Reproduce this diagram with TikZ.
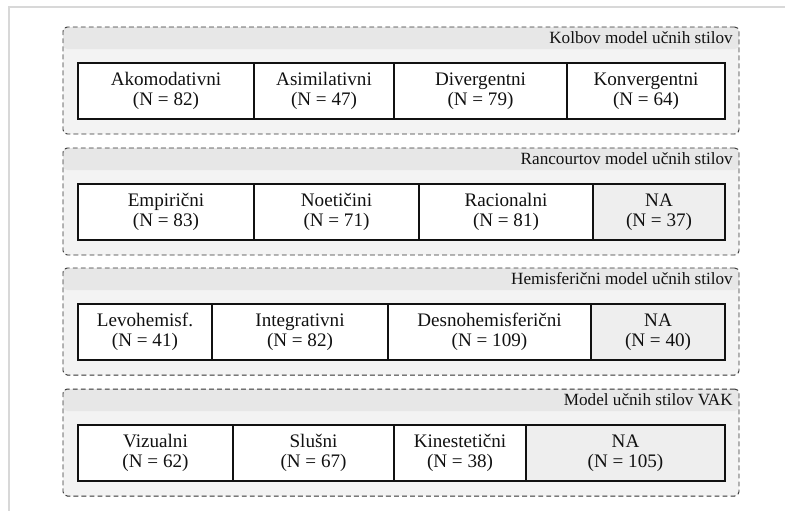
\documentclass[tikz,border=0pt]{standalone}
\usepackage{fontspec}
\setmainfont{Liberation Serif}
\usetikzlibrary{positioning,calc}
\definecolor{Ink}{HTML}{111111}
\definecolor{Frame}{HTML}{D8D8D8}
\definecolor{Boxfill}{HTML}{F3F3F3}
\definecolor{Band}{HTML}{E7E7E7}
\definecolor{Dash}{HTML}{333333}
\definecolor{NAfill}{HTML}{EEEEEE}
\tikzset{
  model/.style={rectangle,rounded corners=3pt,draw=Dash,fill=Boxfill,line width=.7pt,dash pattern=on 3.5pt off 2.2pt,
    minimum width=16.9cm,minimum height=2.675cm,inner sep=0pt,outer sep=0pt,
    path picture={\fill[Band] (path picture bounding box.north west) rectangle ([yshift=-.55cm]path picture bounding box.north east);}},
  mtitle/.style={anchor=base east,inner sep=0pt,font=\fontsize{12.2}{14}\selectfont,text=Ink},
  cell/.style={rectangle,draw=Ink,fill=white,line width=1.4pt,minimum height=1.4cm,inner sep=0pt,outer sep=0pt,
    align=center,font=\fontsize{13.6}{14.2}\selectfont,text=Ink},
  na/.style={cell,fill=NAfill}}

\begin{document}
\begin{tikzpicture}[x=1cm,y=1cm]
\path[use as bounding box] (0,0) rectangle (19.625,-12.75);
\draw[Frame,line width=2.1pt] (0.225,-13) -- (0.225,-0.175) -- (20,-0.175);

% model frames
\node[model] (kolb) at (10.025,-2.0125) {};
\node[model] (ranc) at (10.025,-5.0375) {};
\node[model] (hemi) at (10.025,-8.0375) {};
\node[model] (vak) at (10.025,-11.0625) {};
\node[mtitle] (kolbttl) at ([xshift=-.15cm,yshift=-.4cm]kolb.north east) {Kolbov model učnih stilov};
\node[mtitle] (rancttl) at ([xshift=-.15cm,yshift=-.4cm]ranc.north east) {Rancourtov model učnih stilov};
\node[mtitle] (hemittl) at ([xshift=-.15cm,yshift=-.4cm]hemi.north east) {Hemisferični model učnih stilov};
\node[mtitle] (vakttl) at ([xshift=-.15cm,yshift=-.4cm]vak.north east) {Model učnih stilov VAK};

% Kolb
\node[cell,minimum width=4.4cm,anchor=north west] (akom) at ([xshift=.375cm,yshift=-.9cm]kolb.north west) {Akomodativni\\(N = 82)};
\node[cell,minimum width=3.5cm,right=0pt of akom] (asim) {Asimilativni\\(N = 47)};
\node[cell,minimum width=4.325cm,right=0pt of asim] (diver) {Divergentni\\(N = 79)};
\node[cell,minimum width=3.95cm,right=0pt of diver] (konv) {Konvergentni\\(N = 64)};

% Rancourt
\node[cell,minimum width=4.4cm,anchor=north west] (empir) at ([xshift=.375cm,yshift=-.9cm]ranc.north west) {Empirični\\(N = 83)};
\node[cell,minimum width=4.125cm,right=0pt of empir] (noet) {Noetičini\\(N = 71)};
\node[cell,minimum width=4.35cm,right=0pt of noet] (racio) {Racionalni\\(N = 81)};
\node[na,minimum width=3.3cm,right=0pt of racio] (rancna) {NA\\(N = 37)};

% hemisferic
\node[cell,minimum width=3.35cm,anchor=north west] (levo) at ([xshift=.375cm,yshift=-.9cm]hemi.north west) {Levohemisf.\\(N = 41)};
\node[cell,minimum width=4.4cm,right=0pt of levo] (integ) {Integrativni\\(N = 82)};
\node[cell,minimum width=5.075cm,right=0pt of integ] (desno) {Desnohemisferični\\(N = 109)};
\node[na,minimum width=3.35cm,right=0pt of desno] (hemina) {NA\\(N = 40)};

% VAK
\node[cell,minimum width=3.875cm,anchor=north west] (vizu) at ([xshift=.375cm,yshift=-.9cm]vak.north west) {Vizualni\\(N = 62)};
\node[cell,minimum width=4.025cm,right=0pt of vizu] (slus) {Slušni\\(N = 67)};
\node[cell,minimum width=3.3cm,right=0pt of slus] (kines) {Kinestetični\\(N = 38)};
\node[na,minimum width=4.975cm,right=0pt of kines] (vakna) {NA\\(N = 105)};
\end{tikzpicture}
\end{document}
